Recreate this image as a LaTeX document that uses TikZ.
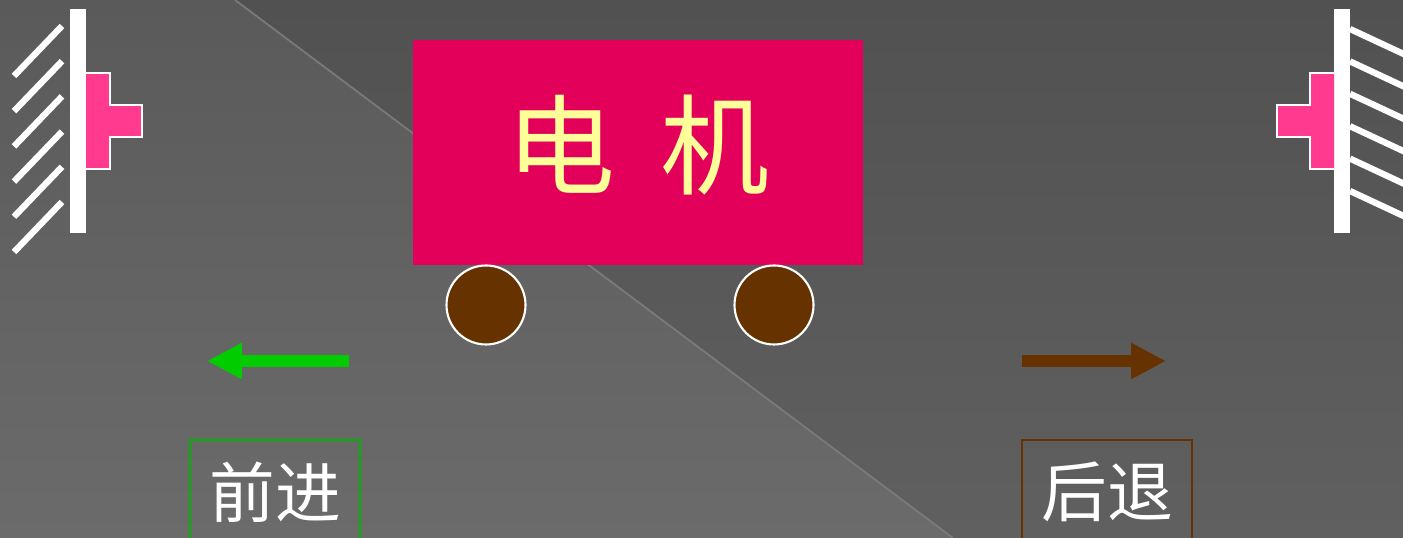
\documentclass[tikz,border=0pt]{standalone}
\usepackage{fontspec}
\newfontfamily\cjk{Noto Sans CJK SC}
\usetikzlibrary{arrows.meta}

\definecolor{bgtop}{HTML}{515151}
\definecolor{bgbottom}{HTML}{606060}
\definecolor{paneltop}{HTML}{5A5A5A}
\definecolor{panelbottom}{HTML}{6B6B6B}
\definecolor{seamgray}{HTML}{7A7A7A}
\definecolor{motorred}{HTML}{E3005A}
\definecolor{motorname}{HTML}{FFFF99}
\definecolor{stoppink}{HTML}{FF3A8F}
\definecolor{wheelbrown}{HTML}{663300}
\definecolor{fwdgreen}{HTML}{00CC00}
\definecolor{fwdframe}{HTML}{00B400}

\begin{document}
\begin{tikzpicture}[
  x=1cm, y=1cm,
  every node/.style={inner sep=1pt},
  seam/.style={draw=seamgray, line width=0.5pt},
  wall/.style={fill=white},
  hatch/.style={draw=white, line width=1.8pt},
  stopper/.style={fill=stoppink, draw=white, line width=0.6pt},
  motor/.style={rectangle, fill=motorred, minimum width=4.50cm, minimum height=2.25cm, inner sep=0pt},
  motorlabel/.style={text=motorname, font=\cjk\fontsize{31pt}{33pt}\selectfont},
  wheel/.style={circle, fill=wheelbrown, draw=white, line width=0.6pt, minimum size=0.79cm, inner sep=0pt},
  % the two run directions: thick shaft with a wide triangular head
  move/.style={line width=0.12cm, -{Triangle[length=0.35cm, width=0.34cm]}},
  tag/.style={rectangle, draw, line width=0.6pt, minimum width=1.70cm, minimum height=1.04cm,
    inner sep=0pt, text=white, font=\cjk\fontsize{18.7pt}{20pt}\selectfont}]

  % background, split by the diagonal
  \useasboundingbox (0,0) rectangle (14.03,5.38);
  \clip (0,0) rectangle (14.03,5.38);
  \shade[top color=bgtop, bottom color=bgbottom] (0,0) rectangle (14.03,5.38);
  \shade[top color=paneltop, bottom color=panelbottom]
    (0,5.38) -- (2.35,5.38) -- (9.53,0) -- (0,0) -- cycle;
  \draw[seam] (2.35,5.38) -- (9.53,0);

  % left end: wall, hatching and stopper
  \fill[wall] (0.70,3.05) rectangle (0.86,5.29);
  \foreach \k in {0,...,5}
    \draw[hatch] (0.14,{4.62-0.352*\k}) -- (0.62,{5.12-0.352*\k});
  \draw[stopper] (0.86,4.65) -- (1.10,4.65) -- (1.10,4.33) -- (1.42,4.33)
    -- (1.42,4.01) -- (1.10,4.01) -- (1.10,3.69) -- (0.86,3.69);

  % right end
  \fill[wall] (13.34,3.05) rectangle (13.50,5.29);
  \foreach \k in {0,...,5}
    \draw[hatch] (13.50,{5.09-0.324*\k}) -- (14.10,{4.81-0.324*\k});
  \draw[stopper] (13.34,4.65) -- (13.10,4.65) -- (13.10,4.33) -- (12.77,4.33)
    -- (12.77,4.01) -- (13.10,4.01) -- (13.10,3.69) -- (13.34,3.69);

  % cart
  \node[motor] (motor) at (6.38,3.855) {};
  \node[motorlabel] (motorname) at ([yshift=0.07cm]motor.center) {电\hspace{0.42em}机};
  \node[wheel] (lwheel) at (4.86,2.33) {};
  \node[wheel] (rwheel) at (7.74,2.33) {};

  % directions
  \coordinate (fwdtail)  at (3.49,1.77);
  \coordinate (fwdhead)  at (2.07,1.77);
  \coordinate (backtail) at (10.22,1.77);
  \coordinate (backhead) at (11.66,1.77);
  \draw[move, fwdgreen]   (fwdtail)  -- (fwdhead);
  \draw[move, wheelbrown] (backtail) -- (backhead);

  % labels
  \node[tag, draw=fwdframe]   (fwd)  at (2.75,0.46)  {前进};
  \node[tag, draw=wheelbrown] (back) at (11.07,0.46) {后退};
\end{tikzpicture}
\end{document}
